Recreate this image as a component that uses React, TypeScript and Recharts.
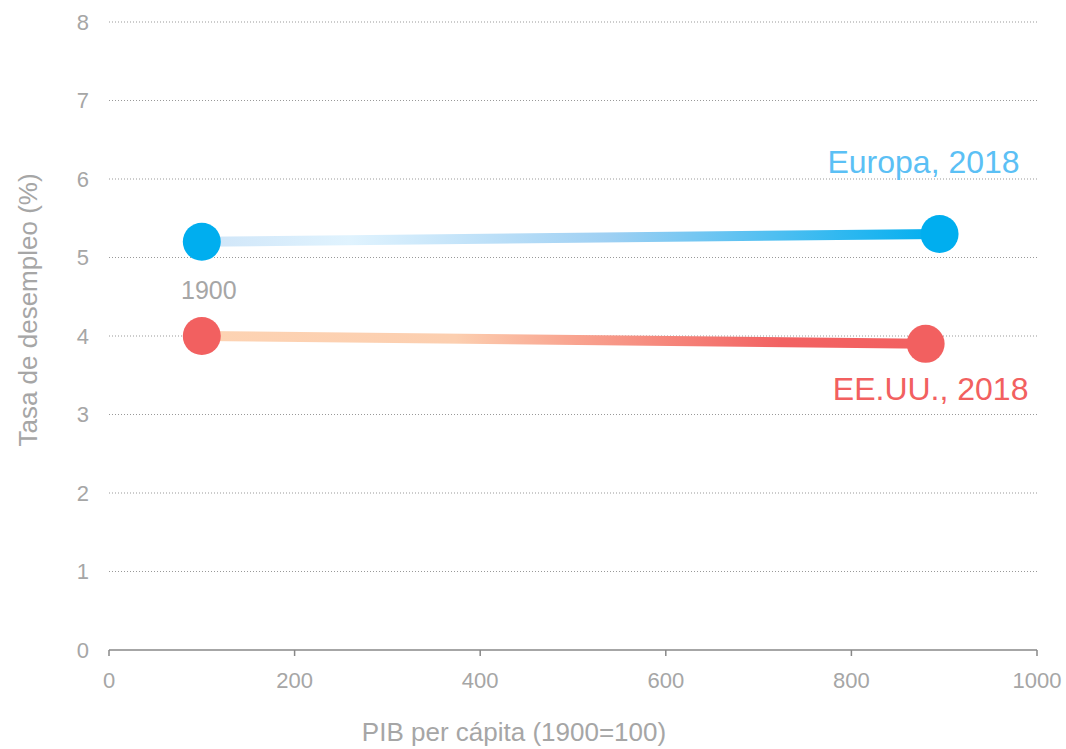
import React from "react";
import { LineChart, Line, XAxis, YAxis, CartesianGrid } from "recharts";

const europa = [
  { x: 100, y: 5.2 },
  { x: 895, y: 5.3 },
];
const eeuu = [
  { x: 100, y: 4.0 },
  { x: 880, y: 3.9 },
];
const xTicks = [0, 200, 400, 600, 800, 1000];
const yTicks = [0, 1, 2, 3, 4, 5, 6, 7, 8];

const FONT = "'Liberation Sans', Arial, sans-serif";
const GREY = "#a6a6a6";
const BLUE = "#00aeef";
const RED = "#f26060";

function endLabel(text: string, color: string, dx: number, dy: number, size: number, which: "first" | "last") {
  return (props: any) => {
    const { x, y, index } = props;
    const want = which === "first" ? 0 : 1;
    if (index !== want) return null;
    return (
      <text
        key={text}
        x={x + dx}
        y={y + dy}
        textAnchor="middle"
        fill={color}
        fontSize={size}
        fontFamily={FONT}
      >
        {text}
      </text>
    );
  };
}

export default function App() {
  return (
    <div style={{ position: "absolute", left: 0, top: 0, background: "#fff" }}>
      <LineChart
        width={1066}
        height={749}
        margin={{ top: 22, right: 29, bottom: 0, left: 0 }}
        style={{ fontFamily: FONT }}
      >
        <defs>
          <linearGradient id="gradEu" x1="0" y1="0" x2="1" y2="0">
            <stop offset="0" stopColor="#cfe5f8" />
            <stop offset="0.2" stopColor="#e0f3fe" />
            <stop offset="0.55" stopColor="#9fd0f3" />
            <stop offset="1" stopColor={BLUE} />
          </linearGradient>
          <linearGradient id="gradUs" x1="0" y1="0" x2="1" y2="0">
            <stop offset="0" stopColor="#fdd3b3" />
            <stop offset="0.35" stopColor="#fccfb0" />
            <stop offset="0.5" stopColor="#f9a792" />
            <stop offset="0.8" stopColor="#f26262" />
            <stop offset="1" stopColor={RED} />
          </linearGradient>
        </defs>
        <CartesianGrid
          vertical={false}
          stroke="#999"
          strokeDasharray="1 2"
          horizontalValues={yTicks.slice(1)}
        />
        <XAxis
          type="number"
          dataKey="x"
          domain={[0, 1000]}
          ticks={xTicks}
          height={99}
          tick={{ fontSize: 22, fill: GREY }}
          tickMargin={16}
          tickSize={6}
          axisLine={{ stroke: "#888", strokeWidth: 1.5 }}
          tickLine={{ stroke: "#888", strokeWidth: 1.5 }}
          label={{
            content: () => (
              <text x={514} y={741} textAnchor="middle" fill={GREY} fontSize={26} fontFamily={FONT}>
                PIB per cápita (1900=100)
              </text>
            ),
          }}
        />
        <YAxis
          type="number"
          dataKey="y"
          domain={[0, 8]}
          ticks={yTicks}
          width={109}
          tick={{ fontSize: 22, fill: GREY }}
          tickMargin={14}
          tickSize={6}
          axisLine={false}
          tickLine={false}
          label={{
            content: () => (
              <text
                x={28}
                y={310}
                transform="rotate(-90 28 310)"
                textAnchor="middle"
                dominantBaseline="central"
                fill={GREY}
                fontSize={26}
                fontFamily={FONT}
              >
                Tasa de desempleo (%)
              </text>
            ),
          }}
        />
        <Line
          data={europa}
          dataKey="y"
          stroke="url(#gradEu)"
          strokeWidth={10}
          dot={{ r: 19, fill: BLUE, stroke: "none", strokeWidth: 0 }}
          activeDot={false}
          isAnimationActive={false}
          label={endLabel("Europa, 2018", "#5bc0f5", -16, -61, 32, "last")}
        />
        <Line
          data={europa}
          dataKey="y"
          stroke="none"
          dot={false}
          activeDot={false}
          isAnimationActive={false}
          label={endLabel("1900", GREY, 7, 57, 25, "first")}
        />
        <Line
          data={eeuu}
          dataKey="y"
          stroke="url(#gradUs)"
          strokeWidth={10}
          dot={{ r: 19, fill: RED, stroke: "none", strokeWidth: 0 }}
          activeDot={false}
          isAnimationActive={false}
          label={endLabel("EE.UU., 2018", RED, 5, 56, 32, "last")}
        />
      </LineChart>
    </div>
  );
}
